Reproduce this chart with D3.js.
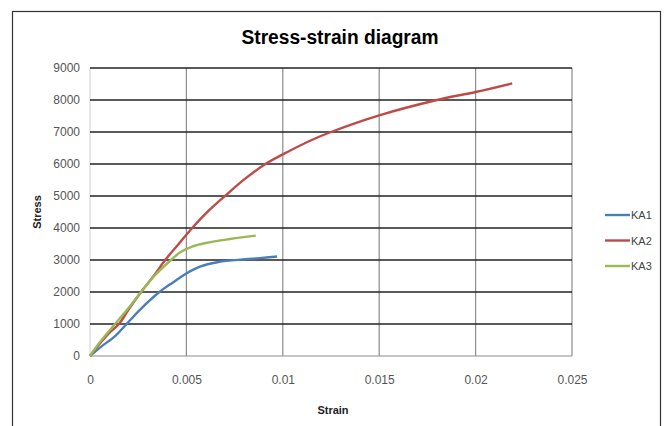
<!DOCTYPE html>
<html><head><meta charset="utf-8">
<script src="https://cdn.jsdelivr.net/npm/d3@7"></script>
<style>body{margin:0;background:#fff}svg{display:block}</style>
</head><body>
<svg id="chart" width="668" height="426"></svg>
<script>
const seriesNames = ["KA1", "KA2", "KA3"];
const seriesColors = ["#4a7ebb", "#be4b48", "#98b954"];
const ka1 = [[0,0],[0.0006,300],[0.0013,620],[0.0019,1000],[0.0026,1450],[0.0036,2000],[0.0043,2300],[0.005,2580],[0.0057,2790],[0.0066,2930],[0.0078,3010],[0.0088,3060],[0.0097,3110]];
const ka2 = [[0,0],[0.0005,380],[0.001,720],[0.0015,1000],[0.002,1450],[0.0026,1960],[0.0033,2500],[0.0039,3000],[0.0046,3500],[0.0053,4000],[0.006,4450],[0.007,5000],[0.008,5520],[0.0091,6000],[0.01,6300],[0.0115,6750],[0.0125,7000],[0.015,7520],[0.018,8000],[0.02,8250],[0.0219,8520]];
const ka3 = [[0,0],[0.0005,420],[0.0013,1000],[0.002,1500],[0.0026,1960],[0.0033,2480],[0.0042,3000],[0.0047,3250],[0.0053,3420],[0.006,3530],[0.0072,3650],[0.0086,3760]];
const xTicks = [0, 0.005, 0.01, 0.015, 0.02, 0.025];
const yTicks = [0,1000,2000,3000,4000,5000,6000,7000,8000,9000];
const series = [ka1, ka2, ka3];

const svg = d3.select("#chart");
const x = d3.scaleLinear().domain([0, 0.025]).range([90, 572]);
const y = d3.scaleLinear().domain([0, 9000]).range([356, 68]);

// outer border
svg.append("rect").attr("x",12.5).attr("y",11.5).attr("width",648).attr("height",430)
  .attr("fill","none").attr("stroke","#333").attr("stroke-width",1.2);

// vertical gridlines
svg.append("g").selectAll("line").data(xTicks.slice(1)).join("line")
  .attr("x1",d=>x(d)).attr("x2",d=>x(d)).attr("y1",y(9000)).attr("y2",y(0))
  .attr("stroke","#8c8c8c").attr("stroke-width",1.2);
// left axis line
svg.append("line").attr("x1",x(0)).attr("x2",x(0)).attr("y1",y(9000)).attr("y2",y(0))
  .attr("stroke","#d0d0d0").attr("stroke-width",1);
// horizontal gridlines
svg.append("g").selectAll("line").data(yTicks.slice(1)).join("line")
  .attr("x1",x(0)).attr("x2",x(0.025)).attr("y1",d=>y(d)).attr("y2",d=>y(d))
  .attr("stroke","#222").attr("stroke-width",1.4);
// bottom axis
svg.append("line").attr("x1",x(0)).attr("x2",x(0.025)).attr("y1",y(0)).attr("y2",y(0))
  .attr("stroke","#8c8c8c").attr("stroke-width",1.2);

// axes labels via d3 axes
const yAxis = d3.axisLeft(y).tickValues(yTicks).tickSize(0).tickPadding(10).tickFormat(d3.format("d"));
const gy = svg.append("g").attr("transform",`translate(${x(0)},0)`).call(yAxis);
gy.select(".domain").remove();
gy.selectAll("text").attr("font-family","Liberation Sans, Arial, sans-serif").attr("font-size",12).attr("fill","#555");

const xAxis = d3.axisBottom(x).tickValues(xTicks).tickSize(0).tickPadding(19).tickFormat(d => d === 0 ? "0" : String(+d.toFixed(3)));
const gx = svg.append("g").attr("transform",`translate(0,${y(0)})`).call(xAxis);
gx.select(".domain").remove();
gx.selectAll("text").attr("font-family","Liberation Sans, Arial, sans-serif").attr("font-size",12).attr("fill","#555");

// lines
const line = d3.line().x(d=>x(d[0])).y(d=>y(d[1])).curve(d3.curveCatmullRom.alpha(0.5));
series.forEach((s,i)=>{
  svg.append("path").datum(s).attr("d",line).attr("fill","none")
    .attr("stroke",seriesColors[i]).attr("stroke-width",2.4).attr("stroke-linejoin","round");
});

// title
svg.append("text").attr("x",340).attr("y",44).attr("text-anchor","middle")
  .attr("font-family","Liberation Sans, Arial, sans-serif").attr("font-weight","bold").attr("font-size",20)
  .attr("textLength",197).attr("lengthAdjust","spacingAndGlyphs")
  .attr("fill","#000").text("Stress-strain diagram");

// axis titles
svg.append("text").attr("x",333).attr("y",414).attr("text-anchor","middle")
  .attr("font-family","Liberation Sans, Arial, sans-serif").attr("font-weight","bold").attr("font-size",11)
  .attr("fill","#222").text("Strain");
svg.append("text").attr("transform","translate(41,212) rotate(-90)").attr("text-anchor","middle")
  .attr("font-family","Liberation Sans, Arial, sans-serif").attr("font-weight","bold").attr("font-size",11)
  .attr("fill","#222").text("Stress");

// legend
const leg = svg.append("g");
seriesNames.forEach((n,i)=>{
  const ly = 215 + i*25.5;
  leg.append("line").attr("x1",605).attr("x2",630).attr("y1",ly).attr("y2",ly)
    .attr("stroke",seriesColors[i]).attr("stroke-width",2.4);
  leg.append("text").attr("x",631).attr("y",ly+4).attr("font-family","Liberation Sans, Arial, sans-serif")
    .attr("font-size",11).attr("fill","#444").text(n);
});
</script>
</body></html>
